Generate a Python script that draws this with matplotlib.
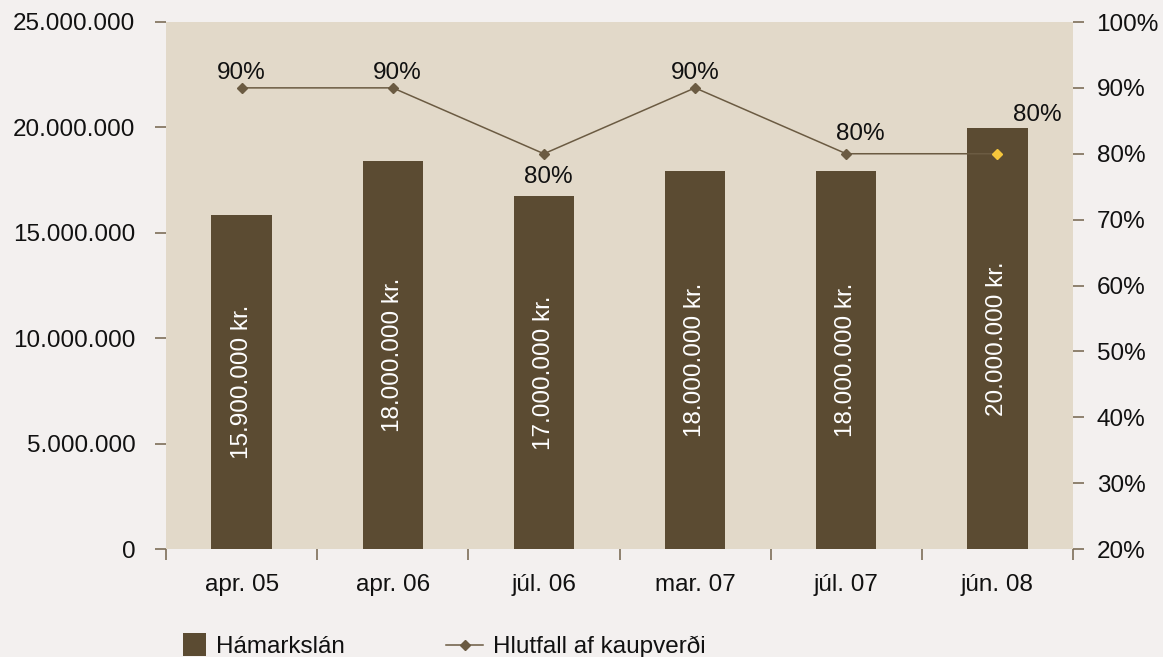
import matplotlib
matplotlib.use("Agg")
import matplotlib.pyplot as plt
from matplotlib.patches import Rectangle, Patch
from matplotlib.lines import Line2D
from matplotlib.legend_handler import HandlerPatch
from matplotlib.ticker import FixedLocator, FuncFormatter

# ---- data ----
categories = ["apr. 05", "apr. 06", "júl. 06", "mar. 07", "júl. 07", "jún. 08"]
bar_values = [15830000, 18390000, 16730000, 17920000, 17920000, 19960000]
bar_labels = ["15.900.000 kr.", "18.000.000 kr.", "17.000.000 kr.",
              "18.000.000 kr.", "18.000.000 kr.", "20.000.000 kr."]
ratio_values = [0.90, 0.90, 0.80, 0.90, 0.80, 0.80]
ratio_labels = ["90%", "90%", "80%", "90%", "80%", "80%"]
left_ticks = [0, 5000000, 10000000, 15000000, 20000000, 25000000]
right_ticks = [0.2, 0.3, 0.4, 0.5, 0.6, 0.7, 0.8, 0.9, 1.0]
series_names = ["Hámarkslán", "Hlutfall af kaupverði"]

# ---- style ----
FIG_BG = "#f3f0ef"
AX_BG = "#e2d9c9"
BAR_C = "#5b4b32"
LINE_C = "#6b5b42"
TICK_C = "#7d6e58"
HILITE = "#f5c63c"
TXT = "#111111"
FS = 17.5
FONT = ["Liberation Sans", "DejaVu Sans"]
plt.rcParams["font.family"] = FONT

# label offsets in points (dx, dy) for the ratio labels
label_offsets = [(0, 11), (3, 11), (3, -17), (0, 11), (10, 14), (29, 28)]

fig = plt.figure(figsize=(11.63, 6.57), dpi=100, facecolor=FIG_BG)
ax = fig.add_axes([166/1163, 1-549/657, (1073-166)/1163, (549-22)/657])
ax.set_facecolor(AX_BG)
for s in ax.spines.values():
    s.set_visible(False)

x = list(range(len(categories)))
bars = ax.bar(x, bar_values, width=0.40, color=BAR_C, zorder=2)
ax.set_xlim(-0.5, len(categories) - 0.5)
ax.set_ylim(0, 25000000)

ax.yaxis.set_major_locator(FixedLocator(left_ticks))
ax.yaxis.set_major_formatter(FuncFormatter(lambda v, p: f"{int(v):,}".replace(",", ".")))
ax.tick_params(axis="y", which="major", length=8, width=1.2, color=TICK_C,
               labelsize=FS, labelcolor=TXT, pad=14)

ax.set_xticks(x)
ax.set_xticklabels(categories)
ax.set_xticks([i - 0.5 for i in range(len(categories) + 1)], minor=True)
ax.tick_params(axis="x", which="major", length=0, labelsize=FS, labelcolor=TXT, pad=18)
ax.tick_params(axis="x", which="minor", length=8, width=1.2, color=TICK_C)

for xi, v, lab in zip(x, bar_values, bar_labels):
    ax.text(xi, v / 2, lab, rotation=90, ha="center", va="center",
            color="white", fontsize=FS, zorder=3)

ax2 = ax.twinx()
for s in ax2.spines.values():
    s.set_visible(False)
ax2.set_ylim(0.2, 1.0)
ax2.yaxis.set_major_locator(FixedLocator(right_ticks))
ax2.yaxis.set_major_formatter(FuncFormatter(lambda v, p: f"{round(v*100)}%"))
ax2.tick_params(axis="y", which="major", length=8, width=1.2, color=TICK_C,
                labelsize=FS, labelcolor=TXT, pad=9)

ax2.plot(x, ratio_values, color=LINE_C, lw=1.1, marker="D", markersize=5.5,
         markerfacecolor=LINE_C, markeredgecolor=LINE_C,
         markevery=list(range(len(x) - 1)), zorder=4)
ax2.plot(x[-1:], ratio_values[-1:], linestyle="none", marker="D", markersize=5,
         markerfacecolor=HILITE, markeredgecolor=HILITE, zorder=5)

for xi, v, lab, off in zip(x, ratio_values, ratio_labels, label_offsets):
    ax2.annotate(lab, (xi, v), xytext=off, textcoords="offset points",
                 ha="center", va="center", fontsize=FS, color=TXT)


class SquareHandler(HandlerPatch):
    def create_artists(self, legend, orig_handle, xdescent, ydescent, width,
                       height, fontsize, trans):
        s = 16.5
        p = Rectangle((width - xdescent - s, (height - s) / 2 - ydescent), s, s,
                      facecolor=BAR_C, edgecolor="none", transform=trans)
        return [p]


h1 = Patch(facecolor=BAR_C)
h2 = Line2D([], [], color=LINE_C, lw=1.1, marker="D", markersize=5,
            markerfacecolor=LINE_C, markeredgecolor=LINE_C)
fig.legend([h1, h2], series_names, loc="center left",
           bbox_to_anchor=(169/1163, 1-647/657), ncol=2, frameon=False,
           fontsize=FS, handlelength=1.53, handletextpad=0.4, columnspacing=4.17,
           borderpad=0, borderaxespad=0, handler_map={Patch: SquareHandler()},
           labelcolor=TXT)

fig.savefig("out.png", dpi=100, facecolor=FIG_BG)
